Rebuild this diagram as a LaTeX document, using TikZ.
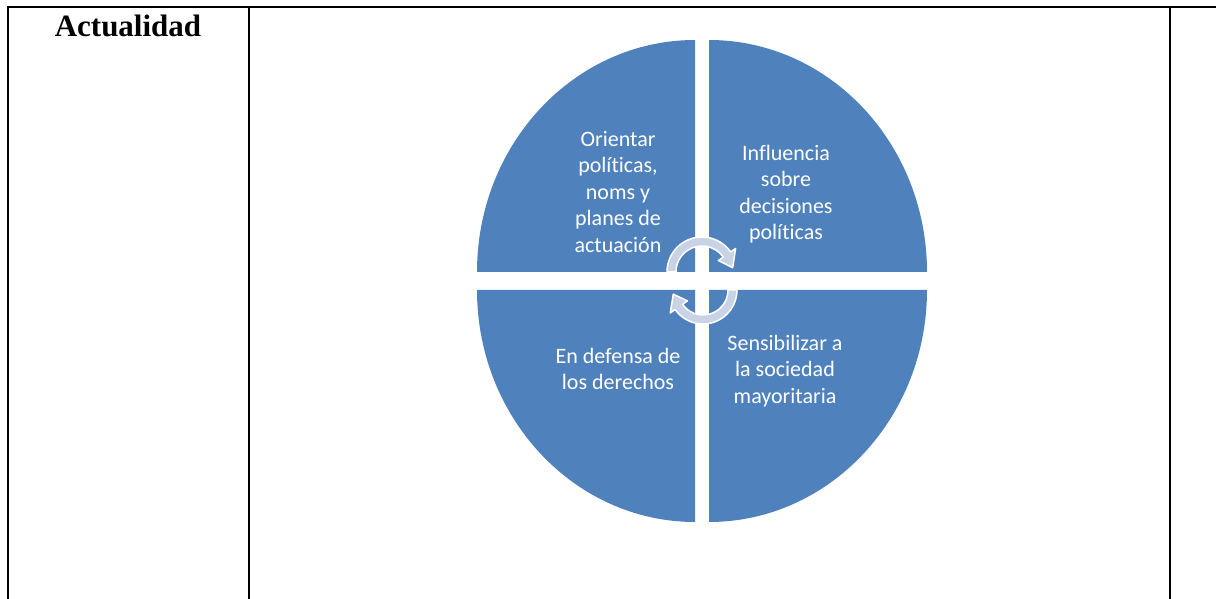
\documentclass[tikz,border=0pt]{standalone}
\usepackage{fontspec}
\setmainfont{Liberation Serif}
\newfontfamily\calibrifont[Ligatures=NoCommon]{Carlito}
\usepackage{tikz}
\usetikzlibrary{positioning}
\usetikzlibrary{calc}
\definecolor{segblue}{RGB}{79,129,189}
\definecolor{arrowfill}{RGB}{200,211,230}
\tikzset{
  % Common styles for the cycle
  segment/.style={fill=segblue},
  segtext/.style={text=white, align=center, inner sep=0pt, font=\calibrifont\fontsize{22}{26.5}\selectfont},
  cyclearrow/.style={fill=arrowfill, draw=white, line width=1.5pt, line join=round},
  rule/.style={draw=black, line width=2pt}
}

\begin{document}
\begin{tikzpicture}[x=1pt, y=1pt]
    \useasboundingbox (0,0) rectangle (1216,599);

    % Table rules
    \coordinate (tl) at (8,592);
    \coordinate (tr) at (1216,592);
    \draw [rule] (tl) -- (tr);
    \draw [rule] (8,593) -- (8,0);
    \draw [rule] (249,593) -- (249,0);
    \draw [rule] (1170,593) -- (1170,0);

    \node [anchor=base, font=\bfseries\fontsize{31}{36}\selectfont] (title) at (128,562) {Actualidad};

    % Quadrants
    \fill [segment] (695,327) -- ++(-218,0) arc[start angle=180, end angle=90, x radius=218, y radius=232] -- cycle;
    \fill [segment] (709,327) -- ++(0,232) arc[start angle=90, end angle=0, x radius=218, y radius=232] -- cycle;
    \fill [segment] (695,309) -- ++(-218,0) arc[start angle=180, end angle=270, x radius=218, y radius=232] -- cycle;
    \fill [segment] (709,309) -- ++(218,0) arc[start angle=0, end angle=-90, x radius=218, y radius=232] -- cycle;

    % Place nodes
    \node [segtext] (orientar) at (618,407) {Orientar\\políticas,\\noms y\\planes de\\actuación};
    \node [segtext] (influencia) at (786,405) {Influencia\\sobre\\decisiones\\políticas};
    \node [segtext] (defensa) at (618,230) {En defensa de\\los derechos};
    \node [segtext] (sensibilizar) at (785,228) {Sensibilizar a\\la sociedad\\mayoritaria};

    % Cycle arrows
    \coordinate (upper) at (702,327);
    \coordinate (lower) at (703,309);
    \draw [cyclearrow] ($(upper)+(180:35)$) arc[start angle=180, end angle=35, radius=35]
        -- ($(upper)+(35:41)$) -- ($(upper)+(8:31)$) -- ($(upper)+(35:20)$)
        -- ($(upper)+(35:26)$) arc[start angle=35, end angle=180, radius=26] -- cycle;
    \draw [cyclearrow] ($(lower)+(0:34)$) arc[start angle=0, end angle=-145, radius=34]
        -- ($(lower)+(-145:40)$) -- ($(lower)+(-172:30)$) -- ($(lower)+(-145:19)$)
        -- ($(lower)+(-145:25)$) arc[start angle=-145, end angle=0, radius=25] -- cycle;

\end{tikzpicture}
\end{document}
